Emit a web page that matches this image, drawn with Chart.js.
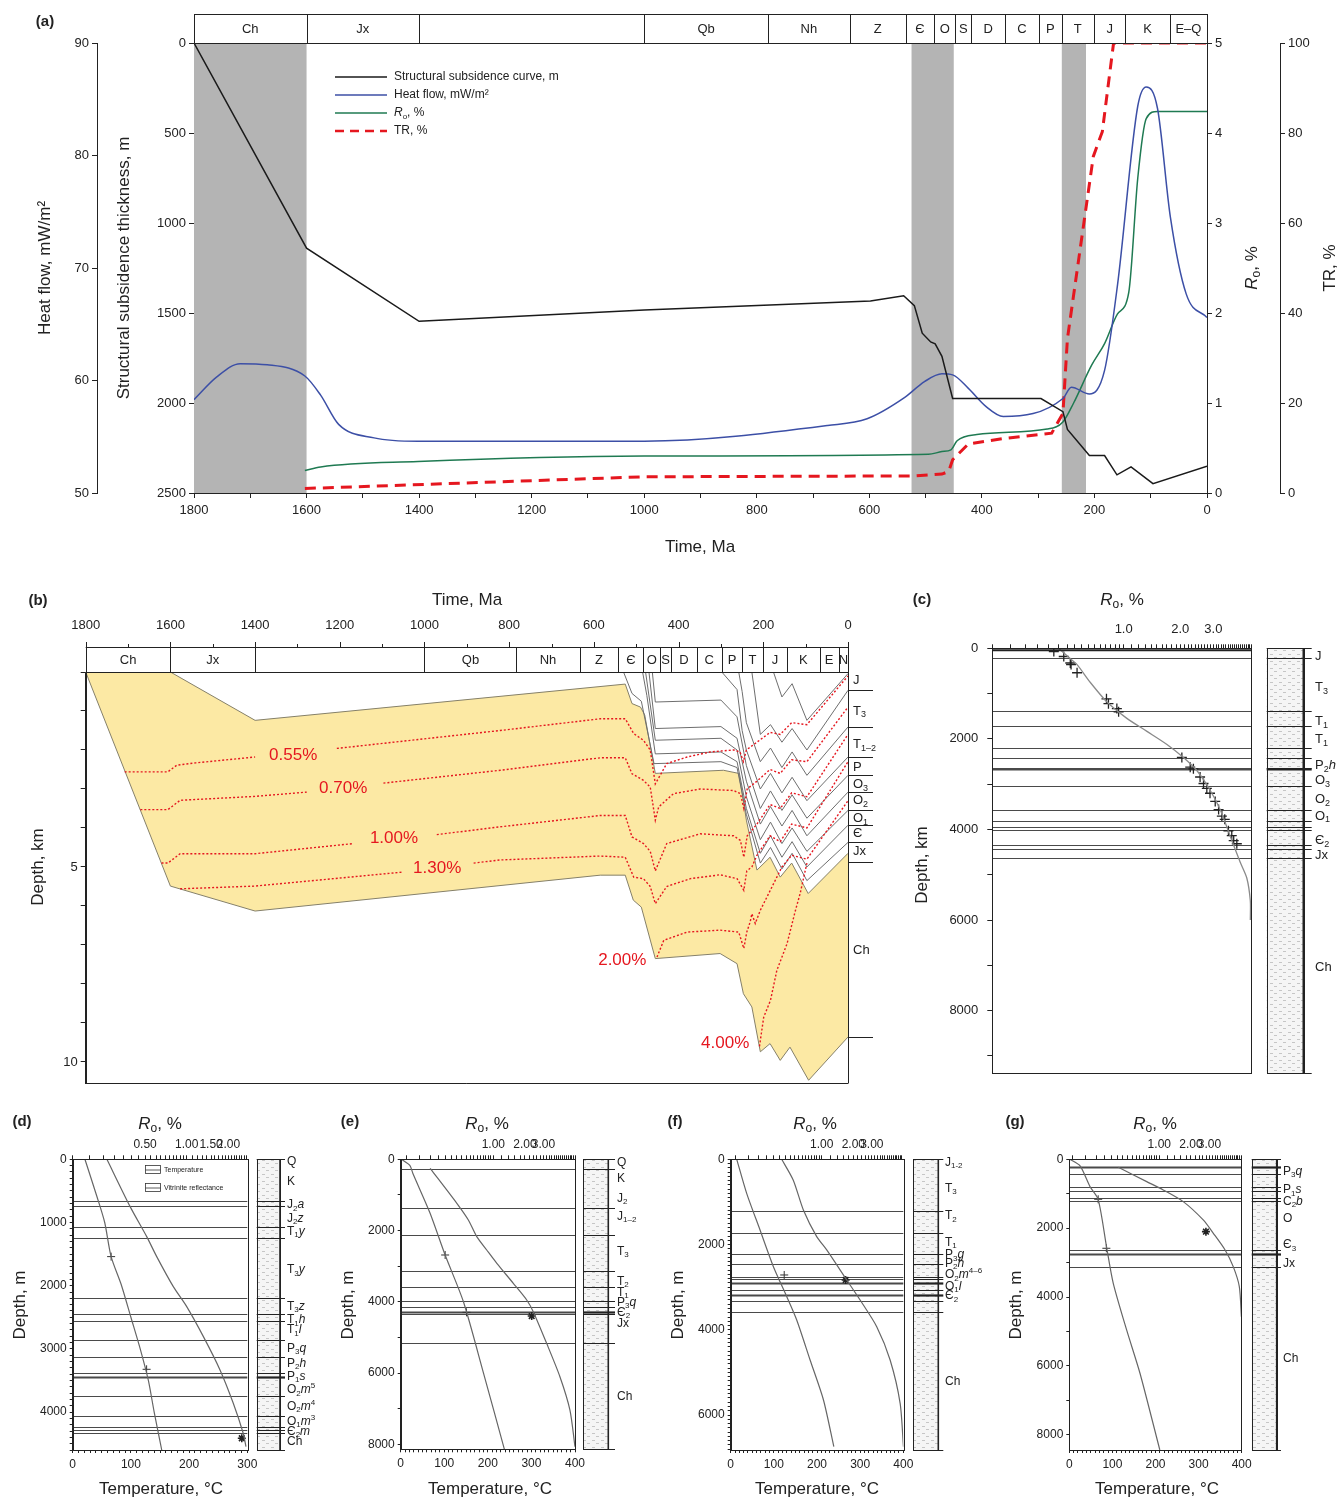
<!DOCTYPE html>
<html>
<head>
<meta charset="utf-8">
<script src="https://cdn.jsdelivr.net/npm/chart.js@4.4.1/dist/chart.umd.min.js"></script>
<style>
  body { margin: 0; background: #fff; width: 1341px; height: 1499px; position: relative; overflow: hidden; }
  canvas { position: absolute; }
</style>
</head>
<body>
<script>
// ---------- panel (a): burial / thermal history ----------
const subT = [1800, 1600, 1400, 1000, 598, 539, 520, 506, 491, 483, 471, 452, 295, 256, 248, 209, 182, 160, 135, 96, 0];
const subV = [0, 1140, 1546, 1483, 1433, 1404, 1459, 1612, 1661, 1671, 1741, 1975, 1975, 2048, 2147, 2292, 2292, 2399, 2355, 2448, 2351];
const hfT = [1800, 1760, 1718, 1670, 1603, 1575, 1543, 1480, 1402, 1000, 674, 604, 537, 502, 471, 452, 424, 393, 362, 256, 241, 209, 182, 159, 123, 108, 88, 65, 37, 0];
const hfV = [58.3, 60.3, 61.5, 61.4, 60.4, 58.7, 56.1, 54.9, 54.6, 54.6, 56.0, 56.6, 58.5, 59.9, 60.6, 60.5, 59.3, 57.7, 56.8, 58.4, 59.4, 58.8, 60.9, 68.5, 84.4, 86.1, 84.2, 74.5, 67.7, 65.6];
const roT = [1603, 1575, 1402, 1000, 495, 471, 455, 444, 409, 284, 256, 237, 205, 182, 159, 139, 123, 108, 88, 0];
const roV = [0.25, 0.29, 0.35, 0.41, 0.43, 0.46, 0.48, 0.58, 0.65, 0.71, 0.79, 1.0, 1.42, 1.66, 1.99, 2.23, 3.5, 4.16, 4.24, 4.24];
const trT = [1603, 1000, 518, 471, 459, 452, 424, 362, 276, 256, 248, 202, 186, 166, 0];
const trV = [1.0, 3.6, 3.8, 4.2, 4.8, 7.4, 10.9, 12.1, 13.3, 17.7, 34.3, 74.8, 80.3, 100, 100];
const aBandT = [1800, 1600, 525, 450, 258, 215];
const aStrataT = [1800, 1600, 1400, 1000, 780, 635, 535, 485, 447, 419, 359, 299, 258, 201, 145, 66, 0];
const aStrataLab = ['Ch', 'Jx', '', 'Qb', 'Nh', 'Z', 'Є', 'O', 'S', 'D', 'C', 'P', 'T', 'J', 'K', 'E–Q'];

// ---------- panel (b): burial history with Ro isolines ----------
const bTopT = [1800, 1600, 1400, 526, 510, 490, 480, 455, 294, 258, 250, 240, 215, 184, 160, 133, 94, 0];
const bTopD = [0, 0, 1.24, 0.31, 0.81, 0.9, 1.1, 2.6, 2.52, 2.6, 3.1, 3.8, 5.08, 4.75, 5.26, 4.9, 5.68, 4.65];
const bBotT = [1800, 1600, 1400, 585, 526, 507, 488, 455, 302, 262, 247, 227, 207, 184, 160, 137, 93, 0];
const bBotD = [0, 5.49, 6.13, 5.21, 5.21, 5.85, 6.03, 7.35, 7.22, 7.48, 8.25, 8.59, 9.74, 9.53, 9.96, 9.62, 10.47, 9.36];
const hzM1 = [[176, 0], [156, 0.64], [132, 0.3], [97, 1.24], [0, 0.04]];
const hzM2 = [[227, 0], [207, 1.6], [183, 1.35], [156, 1.8], [132, 1.45], [97, 2.0], [0, 0.47]];
const hzM3 = [[258, 0], [250, 0.5], [240, 1.3], [207, 2.3], [183, 1.95], [156, 2.45], [132, 2.05], [97, 2.65], [0, 1.41]];
const hzM4 = [[298, 0], [262, 0.45], [250, 1.5], [240, 2.0], [207, 3.0], [183, 2.6], [156, 3.1], [132, 2.7], [97, 3.3], [0, 2.18]];
const hzP1 = [[462, 0], [455, 0.77], [300, 0.72], [262, 1.15], [240, 2.4], [207, 3.5], [183, 3.05], [156, 3.55], [132, 3.15], [97, 3.75], [0, 2.65]];
const hzP2 = [[470, 0], [455, 1.45], [300, 1.4], [262, 1.7], [240, 2.8], [207, 3.9], [183, 3.45], [156, 3.95], [132, 3.55], [97, 4.2], [0, 3.08]];
const hzP3 = [[478, 0], [455, 1.75], [300, 1.7], [262, 2.0], [240, 3.2], [207, 4.3], [183, 3.85], [156, 4.4], [132, 4.0], [97, 4.6], [0, 3.55]];
const hzP4 = [[485, 0], [475, 0.6], [455, 2.1], [300, 2.05], [262, 2.3], [240, 3.5], [207, 4.65], [183, 4.2], [156, 4.75], [132, 4.35], [97, 5.0], [0, 3.93]];
const hzP5 = [[530, 0], [510, 0.55], [488, 0.75], [458, 2.35], [300, 2.3], [262, 2.45], [240, 3.65], [207, 4.9], [183, 4.5], [156, 5.05], [132, 4.65], [97, 5.35], [0, 4.37]];
const iso055 = [[1708, 2.56], [1606, 2.56], [1585, 2.39], [1540, 2.33], [1400, 2.18], [1300, null], [1207, 1.96], [821, 1.5], [585, 1.2], [526, 1.2], [506, 1.58], [483, 1.75], [467, 2.0], [455, 2.87], [428, 2.35], [380, 2.18], [325, 2.05], [270, 2.0], [255, 2.05], [247, 2.3], [240, 2.0], [215, 1.8], [184, 1.55], [160, 1.6], [133, 1.3], [97, 1.35], [0, 0.1]];
const iso070 = [[1671, 3.53], [1606, 3.53], [1577, 3.29], [1400, 3.19], [1278, 3.08], [1190, null], [1097, 2.85], [821, 2.52], [585, 2.2], [526, 2.2], [510, 2.61], [483, 2.78], [467, 2.95], [455, 3.8], [447, 3.46], [412, 3.12], [349, 3.0], [270, 3.04], [254, 3.12], [246, 3.5], [238, 3.0], [215, 2.8], [184, 2.5], [160, 2.6], [133, 2.25], [97, 2.3], [0, 0.9]];
const iso100 = [[1621, 4.9], [1606, 4.9], [1577, 4.66], [1400, 4.66], [1168, 4.4], [1070, null], [971, 4.17], [821, 3.97], [585, 3.68], [526, 3.68], [510, 4.23], [483, 4.4], [467, 4.6], [455, 5.1], [428, 4.4], [349, 4.15], [270, 4.2], [254, 4.32], [246, 4.75], [238, 4.2], [215, 3.9], [184, 3.4], [160, 3.5], [133, 3.1], [97, 3.2], [0, 1.6]];
const iso130 = [[1577, 5.56], [1400, 5.49], [1050, 5.13], [970, null], [884, 4.9], [821, 4.82], [585, 4.72], [526, 4.75], [506, 5.26], [483, 5.3], [467, 5.5], [455, 5.94], [428, 5.5], [372, 5.3], [302, 5.2], [262, 5.3], [246, 5.6], [239, 5.1], [227, 5.0], [215, 4.7], [184, 4.2], [160, 4.35], [133, 3.9], [97, 4.0], [0, 2.3]];
const iso200 = [[451, 7.31], [435, 6.88], [380, 6.67], [302, 6.62], [258, 6.67], [246, 7.09], [239, 6.67], [231, 6.41], [227, 6.2], [219, 6.45], [207, 6.11], [168, 5.26], [156, 5.0], [133, 4.7], [97, 4.8], [0, 3.3]];
const iso400 = [[209, 9.6], [199, 8.85], [183, 8.42], [168, 7.65], [144, 6.97], [124, 6.11], [113, 5.68], [97, 4.9]];
const bIsoLab = ['0.55%', '0.70%', '1.00%', '1.30%', '2.00%', '4.00%'];
const bIsoLabT = [1310, 1192, 1072, 970, 533, 290];
const bIsoLabD = [2.14, 2.98, 4.26, 5.03, 7.39, 9.52];
const bStrataT = [1800, 1600, 1400, 1000, 783, 634, 542, 483, 443, 418, 357, 298, 250, 201, 144, 67, 22, 0];
const bStrataLab = ['Ch', 'Jx', '', 'Qb', 'Nh', 'Z', 'Є', 'O', 'S', 'D', 'C', 'P', 'T', 'J', 'K', 'E', 'N'];
const bRightD = [0.47, 1.41, 2.18, 2.65, 3.08, 3.55, 3.93, 4.37, 4.87, 9.36];
const bRightLab = ['J', 'T_3', 'T_{1–2}', 'P', 'O_3', 'O_2', 'O_1', 'Є', 'Jx', 'Ch'];
const bRightLabD = [0.22, 1.0, 1.85, 2.45, 2.88, 3.3, 3.75, 4.15, 4.6, 7.14];

// ---------- panel (c): Ro profile ----------
const cCurveD = [0, 200, 360, 755, 1187, 1547, 1834, 2123, 2410, 2697, 3128, 3560, 4136, 4712, 5070, 5575, 6000];
const cCurveR = [0.45, 0.51, 0.565, 0.665, 0.816, 1.04, 1.33, 1.70, 2.08, 2.45, 2.88, 3.26, 3.68, 4.16, 4.52, 4.72, 4.72];
const cMeasD = [73, 181, 324, 360, 540, 1115, 1223, 1331, 1403, 2410, 2625, 2660, 2841, 2985, 3093, 3200, 3380, 3560, 3704, 3776, 4028, 4136, 4244, 4315];
const cMeasR = [0.425, 0.48, 0.52, 0.525, 0.565, 0.81, 0.83, 0.92, 0.94, 2.04, 2.26, 2.35, 2.55, 2.66, 2.77, 2.88, 3.07, 3.2, 3.33, 3.45, 3.61, 3.76, 3.85, 4.0];
const cBounds = [216, 1385, 1713, 2200, 2420, 2635, 2670, 3040, 3560, 3815, 3945, 4010, 4333, 4420, 4632];
const cBold = [6];
const cLab = ['J', 'T_3', 'T_1', 'T_1', 'P_2*h*', 'O_3', 'O_2', 'O_1', 'Є_2', 'Jx', 'Ch'];
const cLabD = [181, 863, 1618, 2015, 2589, 2913, 3344, 3704, 4243, 4567, 7048];
const cRoLab = [1, 2, 3];

// ---------- panels (d)-(g): temperature and Ro wells ----------
const dTempD = [0, 600, 1000, 1540, 2000, 2500, 3000, 3500, 4000, 4600];
const dTempT = [21, 42, 55, 66, 84, 100, 116, 130, 140, 153];
const dRoD = [0, 749, 1224, 1540, 2015, 2331, 2806, 3333, 3861, 4335, 4546];
const dRoV = [0.265, 0.39, 0.514, 0.607, 0.80, 1.0, 1.32, 1.74, 2.17, 2.56, 2.68];
const dTempMk = [[66, 1540], [127, 3323]];
const dRoMk = [[2.5, 4414]];
const dBounds = [654, 733, 1076, 1239, 2189, 2447, 2553, 2859, 3133, 3386, 3445, 3745, 4061, 4230, 4283, 4330];
const dLab = ['Q', 'K', 'J_2*a*', 'J_2*z*', 'T_1*y*', 'T_3*y*', 'T_3*z*', 'T_1*h*', 'T_1*l*', 'P_3*q*', 'P_2*h*', 'P_1*s*', 'O_2*m*^5', 'O_2*m*^4', 'O_1*m*^3', 'Є_2*m*', 'Ch'];
const dLabD = [40, 353, 723, 934, 1145, 1751, 2331, 2542, 2700, 2991, 3228, 3439, 3650, 3913, 4150, 4309, 4467];
const dRoLab = [0.5, 1, 1.5, 2];

const eTempD = [0, 170, 400, 1500, 2686, 4000, 6000, 8140];
const eTempT = [2, 21, 28, 67, 102, 144, 190, 238];
const eRoD = [253, 1235, 1703, 2171, 2546, 2920, 3481, 3950, 4277, 5166, 6102, 7038, 8067];
const eRoV = [0.25, 0.449, 0.578, 0.695, 0.865, 1.08, 1.55, 2.08, 2.40, 3.22, 4.31, 5.37, 6.0];
const eTempMk = [[102, 2686], [151, 4296]];
const eRoMk = [[2.32, 4399]];
const eBounds = [281, 1357, 2124, 3126, 3594, 3968, 4137, 4277, 4343, 5147];
const eLab = ['Q', 'K', 'J_2', 'J_{1–2}', 'T_3', 'T_2', 'T_1', 'P_3*q*', 'Є_2', 'Jx', 'Ch'];
const eLabD = [84, 533, 1095, 1610, 2592, 3435, 3744, 4024, 4300, 4605, 6664];

const fTempD = [0, 798, 1658, 2519, 3223, 3770, 4709, 5647, 6742];
const fTempT = [14, 37, 68, 99, 130, 153, 184, 215, 239];
const fRoD = [0, 485, 1189, 1815, 2127, 2831, 3301, 3926, 4709, 5725, 6742];
const fRoV = [0.416, 0.535, 0.669, 0.896, 1.116, 1.73, 2.32, 3.34, 4.48, 5.58, 6.0];
const fTempMk = [[124, 2714]];
const fRoMk = [[1.69, 2831]];
const fBounds = [1212, 1721, 2221, 2456, 2753, 2816, 2910, 3066, 3183, 3316, 3575];
const fLab = ['J_{1-2}', 'T_3', 'T_2', 'T_1', 'P_3*g*', 'P_2*h*', 'O_2*m*^{4–6}', 'O_1*l*', 'Є_2', 'Ch'];
const fLabD = [78, 680, 1330, 1955, 2245, 2440, 2714, 2988, 3200, 5217];

const gTempD = [0, 193, 793, 1161, 2583, 3600, 4954, 6211, 8437];
const gTempT = [1.5, 25, 48, 67, 87, 102, 133, 164, 210];
const gRoD = [232, 648, 890, 1229, 1761, 2148, 2632, 3116, 3696, 4567];
const gRoV = [0.407, 0.759, 1.09, 1.69, 2.62, 3.27, 4.23, 5.06, 5.78, 6.05];
const gTempMk = [[67, 1161], [86, 2583]];
const gRoMk = [[2.78, 2100]];
const gBounds = [232, 435, 813, 919, 1132, 1200, 2632, 2748, 3116];
const gLab = ['P_3*q*', 'P_1*s*', 'C_2*b*', 'O', 'Є_3', 'Jx', 'Ch'];
const gLabD = [358, 890, 1229, 1713, 2487, 3019, 5777];
const efgRoLab = [1, 2, 3];

// ---------- helpers ----------
const FONT = '"Liberation Sans", Arial, sans-serif';
const INK = '#222';
const BLUE = '#3c4fa6', GREEN = '#1f7a52', RED = '#e5171f', YEL = '#fce9a4', HOR = '#6e6e6e', CURVE = '#666';

Chart.defaults.font.family = FONT;
Chart.defaults.font.size = 13;
Chart.defaults.color = INK;
Chart.defaults.animation = false;
Chart.defaults.responsive = false;
Chart.defaults.plugins.legend.display = false;
Chart.defaults.plugins.tooltip.enabled = false;
Chart.defaults.elements.point.radius = 0;
Chart.defaults.elements.line.tension = 0;

function mk(left, top, w, h) {
  const c = document.createElement('canvas');
  c.width = w; c.height = h;
  c.style.left = left + 'px'; c.style.top = top + 'px';
  c.style.width = w + 'px'; c.style.height = h + 'px';
  document.body.appendChild(c);
  return c;
}

function axis(extra) {
  const base = {
    border: {display: true, color: INK, width: 1},
    grid: {display: true, drawOnChartArea: false, tickLength: 5, color: INK},
    ticks: {color: INK, font: {size: 13}, padding: 3, autoSkip: false, maxRotation: 0, minRotation: 0}
  };
  const o = Object.assign({}, base, extra);
  o.border = Object.assign({}, base.border, extra.border);
  o.grid = Object.assign({}, base.grid, extra.grid);
  o.ticks = Object.assign({}, base.ticks, extra.ticks);
  return o;
}
const fitW = w => s => { s.width = w; };
const fitH = h => s => { s.height = h; };
const pa = (xs, ys) => xs.map((x, i) => ({x, y: ys[i]}));
const pp = arr => arr.map(p => ({x: p[0], y: p[1]}));
const range = (a, b, s) => { const out = []; for (let v = a; v <= b + 1e-9; v += s) out.push(+v.toFixed(6)); return out; };
const setTicks = vals => s => { s.ticks = vals.map(v => ({value: v})); };
const every = n => v => Math.abs(v / n - Math.round(v / n)) < 1e-9 ? String(v) : '';

// tiny rich text: *italic*, _sub / _{sub}, ^sup / ^{sup}
function parseRich(s) {
  const segs = [];
  let i = 0, it = false;
  while (i < s.length) {
    const ch = s[i];
    if (ch === '*') { it = !it; i++; continue; }
    if (ch === '_' || ch === '^') {
      let t;
      if (s[i + 1] === '{') { const j = s.indexOf('}', i); t = s.slice(i + 2, j); i = j + 1; }
      else { t = s[i + 1]; i += 2; }
      segs.push({t, it, pos: ch === '_' ? 'sub' : 'sup'});
      continue;
    }
    let j = i;
    while (j < s.length && !'*_^'.includes(s[j])) j++;
    segs.push({t: s.slice(i, j), it, pos: 'n'});
    i = j;
  }
  return segs;
}
function rich(ctx, s, x, y, o) {
  o = o || {};
  const size = o.size || 13, weight = o.weight || 'normal';
  const segs = parseRich(s);
  const fontFor = g => (g.it ? 'italic ' : '') + weight + ' ' + (g.pos === 'n' ? size : Math.round(size * 0.68)) + 'px ' + FONT;
  let total = 0;
  segs.forEach(g => { ctx.font = fontFor(g); g.w = ctx.measureText(g.t).width; total += g.w; });
  ctx.save();
  ctx.translate(x, y);
  if (o.rot) ctx.rotate(o.rot);
  ctx.fillStyle = o.color || INK;
  ctx.textBaseline = 'middle';
  ctx.textAlign = 'left';
  let cx = o.align === 'left' ? 0 : o.align === 'right' ? -total : -total / 2;
  segs.forEach(g => {
    ctx.font = fontFor(g);
    const dy = g.pos === 'sub' ? size * 0.3 : g.pos === 'sup' ? -size * 0.35 : 0;
    ctx.fillText(g.t, cx, dy);
    cx += g.w;
  });
  ctx.restore();
}

function header(ctx, x, bounds, labels, top, bottom, size) {
  const xl = x.getPixelForValue(bounds[0]), xr = x.getPixelForValue(bounds[bounds.length - 1]);
  ctx.save();
  ctx.strokeStyle = INK; ctx.lineWidth = 1;
  ctx.strokeRect(Math.round(xl) + 0.5, top + 0.5, Math.round(xr - xl), bottom - top);
  ctx.beginPath();
  for (let i = 1; i < bounds.length - 1; i++) {
    const px = Math.round(x.getPixelForValue(bounds[i])) + 0.5;
    ctx.moveTo(px, top); ctx.lineTo(px, bottom);
  }
  ctx.stroke();
  ctx.restore();
  labels.forEach((lab, i) => {
    if (!lab) return;
    const cx = (x.getPixelForValue(bounds[i]) + x.getPixelForValue(bounds[i + 1])) / 2;
    rich(ctx, lab, cx, (top + bottom) / 2 + 1, {size});
  });
}

const PAT = (() => {
  const c = document.createElement('canvas');
  c.width = 9; c.height = 7;
  const g = c.getContext('2d');
  g.fillStyle = '#f5f5f5'; g.fillRect(0, 0, 9, 7);
  g.fillStyle = '#c6c6c6'; g.fillRect(1, 1, 3, 1); g.fillRect(5, 4, 3, 1);
  return c;
})();

function column(ctx, y, col, top, bottom, bounds, bold, labs, labD, size) {
  ctx.save();
  ctx.fillStyle = ctx.createPattern(PAT, 'repeat');
  ctx.fillRect(col.x0, top, col.x1 - col.x0, bottom - top);
  ctx.strokeStyle = INK; ctx.lineWidth = 1;
  ctx.strokeRect(Math.round(col.x0) + 0.5, Math.round(top) + 0.5, Math.round(col.x1 - col.x0), Math.round(bottom - top));
  ctx.lineWidth = 1.6;
  ctx.beginPath(); ctx.moveTo(col.x1, top); ctx.lineTo(col.x1, bottom); ctx.stroke();
  bounds.concat([0]).forEach((d, i) => {
    const py = Math.round(y.getPixelForValue(d)) + 0.5;
    ctx.lineWidth = bold.includes(i) ? 2.2 : 1;
    ctx.beginPath(); ctx.moveTo(col.x0, py); ctx.lineTo(col.tick, py); ctx.stroke();
  });
  ctx.lineWidth = 1;
  ctx.beginPath(); ctx.moveTo(col.x1, Math.round(bottom) + 0.5); ctx.lineTo(col.tick, Math.round(bottom) + 0.5); ctx.stroke();
  ctx.restore();
  labs.forEach((s, i) => rich(ctx, s, col.lab, y.getPixelForValue(labD[i]), {size, align: 'left'}));
}

function hLines(ctx, a, y, bounds, bold) {
  ctx.save();
  ctx.strokeStyle = '#4a4a4a';
  bounds.forEach((d, i) => {
    const py = Math.round(y.getPixelForValue(d)) + 0.5;
    ctx.lineWidth = bold.includes(i) ? 2.2 : 1;
    ctx.beginPath(); ctx.moveTo(a.left, py); ctx.lineTo(a.right, py); ctx.stroke();
  });
  ctx.restore();
}

function logMinor(min, max, lowStep, highStep) {
  const out = [];
  for (let v = 0.1; v < 1 - 1e-9; v += lowStep) { const r = +v.toFixed(4); if (r >= min && r <= max) out.push(r); }
  for (let v = 1; v <= 10; v += highStep) { const r = +v.toFixed(4); if (r >= min && r <= max) out.push(r); }
  return out;
}
const labCb = (labs, dec) => v => { const m = labs.find(l => Math.abs(l - v) < 1e-6); return m !== undefined ? m.toFixed(dec) : ''; };

// ---------- draw (a) ----------
const aDeco = {
  id: 'aDeco',
  beforeDatasetsDraw(c) {
    const {ctx, chartArea: a, scales: {x}} = c;
    ctx.save();
    ctx.fillStyle = '#b4b4b4';
    for (let i = 0; i < aBandT.length; i += 2) {
      const x0 = x.getPixelForValue(aBandT[i]), x1 = x.getPixelForValue(aBandT[i + 1]);
      ctx.fillRect(x0, a.top, x1 - x0, a.bottom - a.top);
    }
    ctx.restore();
  },
  afterDraw(c) {
    const {ctx, scales: {x}} = c;
    header(ctx, x, aStrataT, aStrataLab, 14, 43, 13);
    const items = [
      ['Structural subsidence curve, m', '#1a1a1a', 1.5, []],
      ['Heat flow, mW/m²', BLUE, 1.5, []],
      ['*R*_o, %', GREEN, 1.5, []],
      ['TR, %', RED, 2.5, [9, 6]]
    ];
    items.forEach((it, i) => {
      const yy = 77 + i * 18;
      ctx.save();
      ctx.strokeStyle = it[1]; ctx.lineWidth = it[2]; ctx.setLineDash(it[3]);
      ctx.beginPath(); ctx.moveTo(335, yy); ctx.lineTo(387, yy); ctx.stroke();
      ctx.restore();
      rich(ctx, it[0], 394, yy, {size: 12, align: 'left'});
    });
    rich(ctx, '(a)', 45, 22, {size: 15, weight: 'bold'});
    rich(ctx, 'Heat flow, mW/m²', 45, 268, {size: 17, rot: -Math.PI / 2});
    rich(ctx, 'Structural subsidence thickness, m', 124, 268, {size: 17, rot: -Math.PI / 2});
    rich(ctx, '*R*_o, %', 1252, 268, {size: 17, rot: -Math.PI / 2});
    rich(ctx, 'TR, %', 1330, 268, {size: 17, rot: -Math.PI / 2});
    rich(ctx, 'Time, Ma', 700, 547, {size: 17});
  }
};

new Chart(mk(0, 0, 1341, 565), {
  type: 'line',
  data: {datasets: [
    {data: pa(subT, subV), yAxisID: 'ySub', borderColor: '#1a1a1a', borderWidth: 1.5},
    {data: pa(hfT, hfV), yAxisID: 'yHF', borderColor: BLUE, borderWidth: 1.5, cubicInterpolationMode: 'monotone'},
    {data: pa(roT, roV), yAxisID: 'yRo', borderColor: GREEN, borderWidth: 1.5, cubicInterpolationMode: 'monotone'},
    {data: pa(trT, trV), yAxisID: 'yTR', borderColor: RED, borderWidth: 3, borderDash: [11, 7]}
  ]},
  options: {
    devicePixelRatio: 1,
    layout: {padding: {top: 43, left: 0, right: 0, bottom: 0}},
    scales: {
      x: axis({type: 'linear', min: 0, max: 1800, reverse: true, afterFit: fitH(72),
        afterBuildTicks: setTicks(range(0, 1800, 100)), ticks: {padding: 5, callback: every(200)}}),
      ySub: axis({position: 'left', weight: 0, min: 0, max: 2500, reverse: true,
        afterBuildTicks: setTicks(range(0, 2500, 500)), ticks: {callback: every(500)}, afterFit: fitW(97)}),
      yHF: axis({position: 'left', weight: 1, min: 50, max: 90,
        afterBuildTicks: setTicks(range(50, 90, 10)), ticks: {callback: every(10)}, afterFit: fitW(97)}),
      yRo: axis({position: 'right', weight: 0, min: 0, max: 5,
        afterBuildTicks: setTicks(range(0, 5, 1)), ticks: {callback: every(1)}, afterFit: fitW(73)}),
      yTR: axis({position: 'right', weight: 1, min: 0, max: 100,
        afterBuildTicks: setTicks(range(0, 100, 20)), ticks: {callback: every(20)}, afterFit: fitW(61)})
    }
  },
  plugins: [aDeco]
});

// ---------- draw (b) ----------
const bDeco = {
  id: 'bDeco',
  afterDraw(c) {
    const {ctx, chartArea: a, scales: {x, y}} = c;
    const top = 57;
    ctx.save();
    ctx.strokeStyle = INK; ctx.lineWidth = 1;
    ctx.beginPath();
    ctx.moveTo(a.left, top + 0.5); ctx.lineTo(a.right, top + 0.5);
    for (let t = 0; t <= 1800; t += 100) {
      const px = Math.round(x.getPixelForValue(t)) + 0.5;
      ctx.moveTo(px, top); ctx.lineTo(px, top - (t % 200 ? 3 : 5));
    }
    ctx.moveTo(Math.round(a.left) + 0.5, top); ctx.lineTo(Math.round(a.left) + 0.5, a.bottom);
    ctx.moveTo(a.left, Math.round(a.bottom) + 0.5); ctx.lineTo(a.right, Math.round(a.bottom) + 0.5);
    ctx.moveTo(Math.round(a.right) + 0.5, top); ctx.lineTo(Math.round(a.right) + 0.5, a.bottom + 0.5);
    bRightD.forEach(d => {
      const py = Math.round(y.getPixelForValue(d)) + 0.5;
      ctx.moveTo(a.right, py); ctx.lineTo(a.right + 25, py);
    });
    ctx.stroke();
    ctx.restore();
    header(ctx, x, bStrataT, bStrataLab, top, Math.round(a.top), 13);
    bRightLab.forEach((s, i) => rich(ctx, s, a.right + 5, y.getPixelForValue(bRightLabD[i]), {size: 13, align: 'left'}));
    bIsoLab.forEach((s, i) => rich(ctx, s, x.getPixelForValue(bIsoLabT[i]), y.getPixelForValue(bIsoLabD[i]), {size: 17, color: RED}));
    rich(ctx, '(b)', 38, 11, {size: 15, weight: 'bold'});
    rich(ctx, 'Time, Ma', 467, 10, {size: 17});
    rich(ctx, 'Depth, km', 38, 277, {size: 17, rot: -Math.PI / 2});
  }
};

const bDatasets = [
  {data: pa(bTopT, bTopD), fill: '+1', backgroundColor: YEL, borderColor: '#85806a', borderWidth: 1, order: 10},
  {data: pa(bBotT, bBotD), fill: false, borderColor: '#85806a', borderWidth: 1, order: 10}
];
[hzM1, hzM2, hzM3, hzM4, hzP1, hzP2, hzP3, hzP4, hzP5].forEach(h =>
  bDatasets.push({data: pp(h), borderColor: HOR, borderWidth: 1, order: 5}));
[iso055, iso070, iso100, iso130, iso200, iso400].forEach(h =>
  bDatasets.push({data: pp(h), borderColor: RED, borderWidth: 1.4, borderDash: [2, 2], order: 1}));

new Chart(mk(0, 590, 900, 510), {
  type: 'line',
  data: {datasets: bDatasets},
  options: {
    devicePixelRatio: 1,
    layout: {padding: {top: 0, left: 0, right: 52, bottom: 17}},
    plugins: {filler: {drawTime: 'beforeDatasetsDraw'}},
    scales: {
      x: axis({type: 'linear', position: 'top', min: 0, max: 1800, reverse: true, afterFit: fitH(82),
        border: {display: false}, grid: {display: false},
        afterBuildTicks: setTicks(range(0, 1800, 200)), ticks: {padding: 34, callback: every(200)}}),
      y: axis({position: 'left', min: 0, max: 10.54, reverse: true, afterFit: fitW(85.7),
        afterBuildTicks: setTicks(range(0, 10, 1)), ticks: {callback: v => (v === 5 || v === 10) ? String(v) : ''}})
    }
  },
  plugins: [bDeco]
});

// ---------- draw (c) ----------
const cDeco = {
  id: 'cDeco',
  beforeDatasetsDraw(c) {
    hLines(c.ctx, c.chartArea, c.scales.y, cBounds, cBold);
  },
  afterDraw(c) {
    const {ctx, chartArea: a, scales: {y}} = c;
    ctx.save();
    ctx.strokeStyle = INK; ctx.lineWidth = 1;
    ctx.strokeRect(Math.round(a.left) + 0.5, Math.round(a.top) + 0.5, Math.round(a.right - a.left), Math.round(a.bottom - a.top));
    ctx.lineWidth = 2;
    ctx.beginPath(); ctx.moveTo(a.left, a.top + 2); ctx.lineTo(a.right, a.top + 2); ctx.stroke();
    ctx.restore();
    column(ctx, y, {x0: 366.7, x1: 403.3, tick: 411.7, lab: 415}, a.top, a.bottom, cBounds, cBold, cLab, cLabD, 13);
    rich(ctx, '(c)', 22, 10, {size: 15, weight: 'bold'});
    rich(ctx, '*R*_o, %', 222, 10, {size: 17});
    rich(ctx, 'Depth, km', 22, 275, {size: 17, rot: -Math.PI / 2});
  }
};

new Chart(mk(900, 590, 441, 500), {
  type: 'line',
  data: {datasets: [
    {data: pa(cCurveR, cCurveD), borderColor: '#8a8a8a', borderWidth: 1.3, tension: 0.25},
    {data: pa(cMeasR, cMeasD), showLine: false, pointStyle: 'cross', pointRadius: 5, borderColor: INK, borderWidth: 1.3}
  ]},
  options: {
    devicePixelRatio: 1,
    layout: {padding: {top: 0, left: 0, right: 89.3, bottom: 7.3}},
    scales: {
      x: axis({type: 'logarithmic', position: 'top', min: 0.2, max: 4.8, afterFit: fitH(58.3),
        afterBuildTicks: setTicks(logMinor(0.2, 4.8, 0.05, 0.1)),
        grid: {tickLength: 4}, ticks: {padding: 7, callback: labCb(cRoLab, 1)}}),
      y: axis({position: 'left', min: 0, max: 9380, reverse: true, afterFit: fitW(92.3),
        afterBuildTicks: setTicks(range(0, 9000, 1000)), ticks: {padding: 9, callback: every(2000)}})
    }
  },
  plugins: [cDeco]
});

// ---------- draw (d)-(g) ----------
function wellPanel(cfg) {
  const A = cfg.area;
  const deco = {
    id: 'deco' + cfg.name,
    beforeDatasetsDraw(c) {
      hLines(c.ctx, c.chartArea, c.scales.y, cfg.bounds, cfg.bold);
    },
    afterDraw(c) {
      const {ctx, chartArea: a, scales: {y}} = c;
      ctx.save();
      ctx.strokeStyle = INK; ctx.lineWidth = 1;
      ctx.strokeRect(Math.round(a.left) + 0.5, Math.round(a.top) + 0.5, Math.round(a.right - a.left), Math.round(a.bottom - a.top));
      ctx.restore();
      column(ctx, y, cfg.col, a.top, cfg.col.bottom, cfg.bounds, cfg.bold, cfg.labs, cfg.labD, 12);
      rich(ctx, '(' + cfg.name + ')', cfg.tag[0], cfg.tag[1], {size: 15, weight: 'bold'});
      rich(ctx, '*R*_o, %', cfg.roT[0], cfg.roT[1], {size: 17});
      rich(ctx, 'Depth, m', cfg.depT[0], cfg.depT[1], {size: 17, rot: -Math.PI / 2});
      rich(ctx, 'Temperature, °C', cfg.tmpT[0], cfg.tmpT[1], {size: 17});
      if (cfg.extra) cfg.extra(ctx);
    }
  };
  new Chart(mk(cfg.left, cfg.top, cfg.w, cfg.h), {
    type: 'line',
    data: {datasets: [
      {data: pa(cfg.tempT, cfg.tempD), xAxisID: 'x', borderColor: CURVE, borderWidth: 1.2, tension: 0.25},
      {data: pa(cfg.roV, cfg.roD), xAxisID: 'x2', borderColor: CURVE, borderWidth: 1.2, tension: 0.25},
      {data: pp(cfg.tempMk), xAxisID: 'x', showLine: false, pointStyle: 'cross', pointRadius: 4, borderColor: '#333', borderWidth: 1},
      {data: pp(cfg.roMk), xAxisID: 'x2', showLine: false, pointStyle: 'star', pointRadius: 4, borderColor: '#222', borderWidth: 1.6}
    ]},
    options: {
      devicePixelRatio: 1,
      layout: {padding: {top: 0, left: 0, right: cfg.w - A.r, bottom: 0}},
      scales: {
        x: axis({type: 'linear', position: 'bottom', min: 0, max: cfg.tMax, afterFit: fitH(cfg.h - A.b),
          afterBuildTicks: setTicks(range(0, cfg.tMax, 10)),
          grid: {tickLength: 3}, ticks: {padding: 4, font: {size: 12}, callback: every(100)}}),
        x2: axis({type: 'logarithmic', position: 'top', min: cfg.roMin, max: cfg.roMax, afterFit: fitH(A.t),
          afterBuildTicks: setTicks(logMinor(cfg.roMin, cfg.roMax, 0.05, cfg.roHi)),
          grid: {tickLength: 4}, ticks: {padding: 3, font: {size: 12}, callback: labCb(cfg.roLab, 2)}}),
        y: axis({position: 'left', min: 0, max: cfg.dMax, reverse: true, afterFit: fitW(A.l),
          afterBuildTicks: setTicks(range(0, cfg.dMax, cfg.dStep)),
          grid: {tickLength: 3}, ticks: {padding: 3, font: {size: 12}, callback: every(cfg.dLab)}})
      }
    },
    plugins: [deco]
  });
}

wellPanel({
  name: 'd', left: 0, top: 1110, w: 330, h: 389, area: {l: 72.7, r: 247.3, t: 49.3, b: 340},
  tMax: 300, roMin: 0.15, roMax: 2.74, roHi: 0.1, roLab: dRoLab, dMax: 4600, dStep: 100, dLab: 1000,
  tempT: dTempT, tempD: dTempD, roV: dRoV, roD: dRoD, tempMk: dTempMk, roMk: dRoMk,
  bounds: dBounds, bold: [10], labs: dLab, labD: dLabD,
  col: {x0: 256.7, x1: 280, tick: 285, lab: 287, bottom: 340},
  tag: [22, 12], roT: [160, 14], depT: [20, 195], tmpT: [161, 379],
  extra: ctx => {
    ctx.save();
    ctx.strokeStyle = '#333'; ctx.lineWidth = 0.8;
    [60, 78].forEach(yy => {
      ctx.strokeRect(145.5, yy - 4.5, 15, 8);
      ctx.beginPath(); ctx.moveTo(145.5, yy); ctx.lineTo(160.5, yy); ctx.stroke();
    });
    ctx.restore();
    rich(ctx, 'Temperature', 164, 60, {size: 7, align: 'left'});
    rich(ctx, 'Vitrinite reflectance', 164, 78, {size: 7, align: 'left'});
  }
});

wellPanel({
  name: 'e', left: 330, top: 1110, w: 330, h: 389, area: {l: 70.7, r: 245, t: 49.3, b: 339.3},
  tMax: 400, roMin: 0.131, roMax: 6.0, roHi: 0.2, roLab: efgRoLab, dMax: 8140, dStep: 1000, dLab: 2000,
  tempT: eTempT, tempD: eTempD, roV: eRoV, roD: eRoD, tempMk: eTempMk, roMk: eRoMk,
  bounds: eBounds, bold: [7], labs: eLab, labD: eLabD,
  col: {x0: 253.3, x1: 278.3, tick: 285, lab: 287, bottom: 339.3},
  tag: [20, 12], roT: [157, 14], depT: [18, 195], tmpT: [160, 379]
});

wellPanel({
  name: 'f', left: 660, top: 1110, w: 340, h: 389, area: {l: 70.7, r: 243.3, t: 49.3, b: 340},
  tMax: 400, roMin: 0.136, roMax: 5.98, roHi: 0.2, roLab: efgRoLab, dMax: 6820, dStep: 100, dLab: 2000,
  tempT: fTempT, tempD: fTempD, roV: fRoV, roD: fRoD, tempMk: fTempMk, roMk: fRoMk,
  bounds: fBounds, bold: [6, 8], labs: fLab, labD: fLabD,
  col: {x0: 253.3, x1: 278.3, tick: 283.3, lab: 285, bottom: 340},
  tag: [15, 12], roT: [155, 14], depT: [18, 195], tmpT: [157, 379]
});

wellPanel({
  name: 'g', left: 1000, top: 1110, w: 341, h: 389, area: {l: 69.3, r: 241.7, t: 49.3, b: 340},
  tMax: 400, roMin: 0.139, roMax: 6.09, roHi: 0.2, roLab: efgRoLab, dMax: 8440, dStep: 1000, dLab: 2000,
  tempT: gTempT, tempD: gTempD, roV: gRoV, roD: gRoD, tempMk: gTempMk, roMk: gRoMk,
  bounds: gBounds, bold: [0, 7], labs: gLab, labD: gLabD,
  col: {x0: 251.7, x1: 276.7, tick: 281, lab: 283, bottom: 340},
  tag: [15, 12], roT: [155, 14], depT: [16, 195], tmpT: [157, 379]
});
</script>
</body>
</html>
